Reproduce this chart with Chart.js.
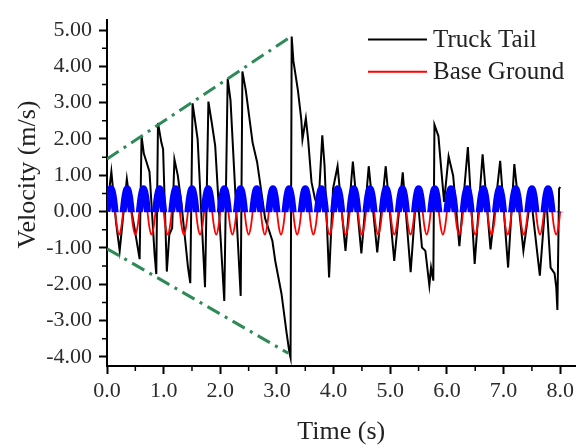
<!DOCTYPE html>
<html><head><meta charset="utf-8">
<script src="https://cdn.jsdelivr.net/npm/chart.js@4/dist/chart.umd.min.js"></script>
<style>html,body{margin:0;padding:0;background:#fff;}#wrap{width:578px;height:448px;}</style>
</head><body><div id="wrap"><canvas id="c" width="578" height="448"></canvas></div>
<script>
const xTicks = [0, 1, 2, 3, 4, 5, 6, 7, 8];
const xMinor = [0.5, 1.5, 2.5, 3.5, 4.5, 5.5, 6.5, 7.5];
const yTicks = [-4, -3, -2, -1, 0, 1, 2, 3, 4, 5];
const yMinor = [-3.5, -2.5, -1.5, -0.5, 0.5, 1.5, 2.5, 3.5, 4.5];

const truckTime = [0.00,0.04,0.077,0.11,0.16,0.224,0.28,0.35,0.40,0.48,0.576,0.61,0.65,0.69,0.75,0.84,0.87,0.90,0.96,0.99,
1.056,1.10,1.15,1.19,1.25,1.31,1.37,1.43,1.47,1.51,1.56,1.60,1.73,1.79,1.85,1.91,2.07,2.13,2.18,2.36,
2.39,2.45,2.57,2.65,2.75,2.79,2.92,2.97,3.08,3.17,3.22,3.24,3.26,3.29,3.37,3.43,3.45,3.51,3.55,3.61,
3.67,3.73,3.80,3.84,3.92,3.99,4.07,4.21,4.34,4.49,4.62,4.77,4.92,5.07,5.22,5.36,5.45,5.50,5.56,5.62,
5.69,5.72,5.76,5.78,5.85,5.90,5.95,6.03,6.11,6.22,6.37,6.49,6.63,6.77,6.94,7.08,7.19,7.35,7.48,7.64,
7.75,7.83,7.90,7.93,7.95,7.98,8.00];
const truckTail = [0.00,0.60,1.10,0.55,-0.30,-1.08,-0.20,0.90,0.30,-0.40,-1.31,2.08,1.60,1.40,1.10,-1.17,-1.72,2.44,1.90,1.72,
-1.65,-0.63,-0.45,1.44,0.99,0.27,-0.63,-1.54,-1.97,2.98,2.44,1.99,-2.08,3.03,2.44,1.81,-2.46,3.66,3.07,-2.32,
3.86,3.34,1.90,1.36,0.27,-0.18,-0.81,-1.36,-2.26,-3.34,-3.88,-4.02,4.82,4.15,3.34,2.53,1.99,2.57,1.99,0.81,
0.36,0.09,2.10,1.27,-1.81,0.63,1.25,-1.08,1.38,-1.15,1.25,-1.12,1.25,-1.36,1.08,-1.67,0.30,0.09,-0.99,-1.08,
-2.03,-1.54,-1.90,2.39,2.08,1.17,0.27,1.52,0.99,-0.95,1.78,-1.44,1.58,-1.04,1.40,-1.54,1.31,-1.08,0.45,-1.76,
0.50,-1.54,-1.70,-2.08,-2.71,0.63,0.68];

const baseTime = [
0,0.0357,0.0714,0.1071,0.1429,0.1786,0.2143,0.25,0.2857,0.3214,0.3571,0.3929,0.4286,0.4643,
0.5,0.5357,0.5714,0.6071,0.6429,0.6786,0.7143,0.75,0.7857,0.8214,0.8571,0.8929,0.9286,0.9643,
1,1.0357,1.0714,1.1071,1.1429,1.1786,1.2143,1.25,1.2857,1.3214,1.3571,1.3929,1.4286,1.4643,
1.5,1.5357,1.5714,1.6071,1.6429,1.6786,1.7143,1.75,1.7857,1.8214,1.8571,1.8929,1.9286,1.9643,
2,2.0357,2.0714,2.1071,2.1429,2.1786,2.2143,2.25,2.2857,2.3214,2.3571,2.3929,2.4286,2.4643,
2.5,2.5357,2.5714,2.6071,2.6429,2.6786,2.7143,2.75,2.7857,2.8214,2.8571,2.8929,2.9286,2.9643,
3,3.0357,3.0714,3.1071,3.1429,3.1786,3.2143,3.25,3.2857,3.3214,3.3571,3.3929,3.4286,3.4643,
3.5,3.5357,3.5714,3.6071,3.6429,3.6786,3.7143,3.75,3.7857,3.8214,3.8571,3.8929,3.9286,3.9643,
4,4.0357,4.0714,4.1071,4.1429,4.1786,4.2143,4.25,4.2857,4.3214,4.3571,4.3929,4.4286,4.4643,
4.5,4.5357,4.5714,4.6071,4.6429,4.6786,4.7143,4.75,4.7857,4.8214,4.8571,4.8929,4.9286,4.9643,
5,5.0357,5.0714,5.1071,5.1429,5.1786,5.2143,5.25,5.2857,5.3214,5.3571,5.3929,5.4286,5.4643,
5.5,5.5357,5.5714,5.6071,5.6429,5.6786,5.7143,5.75,5.7857,5.8214,5.8571,5.8929,5.9286,5.9643,
6,6.0357,6.0714,6.1071,6.1429,6.1786,6.2143,6.25,6.2857,6.3214,6.3571,6.3929,6.4286,6.4643,
6.5,6.5357,6.5714,6.6071,6.6429,6.6786,6.7143,6.75,6.7857,6.8214,6.8571,6.8929,6.9286,6.9643,
7,7.0357,7.0714,7.1071,7.1429,7.1786,7.2143,7.25,7.2857,7.3214,7.3571,7.3929,7.4286,7.4643,
7.5,7.5357,7.5714,7.6071,7.6429,7.6786,7.7143,7.75,7.7857,7.8214,7.8571,7.8929,7.9286,7.9643,
8];
const baseGround = [
0,0.445,0.63,0.445,0,-0.445,-0.63,-0.445,0,0.445,0.63,0.445,0,-0.445,
-0.63,-0.445,0,0.445,0.63,0.445,0,-0.445,-0.63,-0.445,0,0.445,0.63,0.445,
0,-0.445,-0.63,-0.445,0,0.445,0.63,0.445,0,-0.445,-0.63,-0.445,0,0.445,
0.63,0.445,0,-0.445,-0.63,-0.445,0,0.445,0.63,0.445,0,-0.445,-0.63,-0.445,
0,0.445,0.63,0.445,0,-0.445,-0.63,-0.445,0,0.445,0.63,0.445,0,-0.445,
-0.63,-0.445,0,0.445,0.63,0.445,0,-0.445,-0.63,-0.445,0,0.445,0.63,0.445,
0,-0.445,-0.63,-0.445,0,0.445,0.63,0.445,0,-0.445,-0.63,-0.445,0,0.445,
0.63,0.445,0,-0.445,-0.63,-0.445,0,0.445,0.63,0.445,0,-0.445,-0.63,-0.445,
0,0.445,0.63,0.445,0,-0.445,-0.63,-0.445,0,0.445,0.63,0.445,0,-0.445,
-0.63,-0.445,0,0.445,0.63,0.445,0,-0.445,-0.63,-0.445,0,0.445,0.63,0.445,
0,-0.445,-0.63,-0.445,0,0.445,0.63,0.445,0,-0.445,-0.63,-0.445,0,0.445,
0.63,0.445,0,-0.445,-0.63,-0.445,0,0.445,0.63,0.445,0,-0.445,-0.63,-0.445,
0,0.445,0.63,0.445,0,-0.445,-0.63,-0.445,0,0.445,0.63,0.445,0,-0.445,
-0.63,-0.445,0,0.445,0.63,0.445,0,-0.445,-0.63,-0.445,0,0.445,0.63,0.445,
0,-0.445,-0.63,-0.445,0,0.445,0.63,0.445,0,-0.445,-0.63,-0.445,0,0.445,
0.63,0.445,0,-0.445,-0.63,-0.445,0,0.445,0.63,0.445,0,-0.445,-0.63,-0.445,
0];

const envUpperTime = [0, 3.25];
const envUpper = [1.45, 4.82];
const envLowerTime = [0, 3.20];
const envLower = [-1.02, -3.90];

const legendOrder = ['Truck Tail', 'Base Ground'];

const SERIF = '"Liberation Serif", "Times New Roman", serif';
const zip = (xs, ys) => xs.map((x, i) => ({ x: x, y: ys[i] }));

const decor = {
  id: 'decor',
  beforeDatasetDraw(chart, args) {
    const ds = chart.data.datasets[args.index];
    if (ds.clipAbove !== undefined) {
      const a = chart.chartArea, ctx = chart.ctx;
      const y0 = chart.scales.y.getPixelForValue(ds.clipAbove);
      ctx.save();
      ctx.beginPath();
      ctx.rect(a.left, a.top, a.right - a.left, y0 - a.top + 0.5);
      ctx.clip();
    }
  },
  afterDatasetDraw(chart, args) {
    if (chart.data.datasets[args.index].clipAbove !== undefined) chart.ctx.restore();
  },
  afterDraw(chart) {
    const ctx = chart.ctx, a = chart.chartArea, xs = chart.scales.x, ys = chart.scales.y;
    ctx.save();
    ctx.strokeStyle = '#000';
    ctx.lineWidth = 1.5;
    ctx.beginPath();
    yMinor.forEach(v => { const p = ys.getPixelForValue(v); ctx.moveTo(a.left - 5, p); ctx.lineTo(a.left, p); });
    xMinor.forEach(v => { const p = xs.getPixelForValue(v); ctx.moveTo(p, a.bottom); ctx.lineTo(p, a.bottom + 5); });
    ctx.stroke();
    // y axis title
    ctx.save();
    ctx.font = '26px ' + SERIF;
    ctx.fillStyle = '#222';
    ctx.textAlign = 'center';
    ctx.textBaseline = 'alphabetic';
    ctx.translate(35, 174.5);
    ctx.rotate(-Math.PI / 2);
    ctx.fillText('Velocity (m/s)', 0, 0);
    ctx.restore();
    // legend
    ctx.font = '25px ' + SERIF;
    ctx.fillStyle = '#222';
    ctx.textAlign = 'left';
    ctx.textBaseline = 'middle';
    legendOrder.forEach((name, i) => {
      const d = chart.data.datasets.find(ds => ds.label === name);
      const y = 39.5 + i * 32.3;
      ctx.strokeStyle = d.borderColor;
      ctx.lineWidth = 2;
      ctx.beginPath();
      ctx.moveTo(368, y);
      ctx.lineTo(427, y);
      ctx.stroke();
      ctx.fillText(d.label, 433, y + 0.5);
    });
    ctx.restore();
  }
};

new Chart(document.getElementById('c'), {
  type: 'line',
  data: {
    datasets: [
      { label: 'Truck Tail', data: zip(truckTime, truckTail), borderColor: '#000000', borderWidth: 2,
        pointRadius: 0, tension: 0, order: 3 },
      { label: 'Base Ground', data: zip(baseTime, baseGround), borderColor: '#FF0000', borderWidth: 1.8,
        pointRadius: 0, tension: 0.4, order: 2 },
      { label: 'Base Ground (upper half)', data: zip(baseTime, baseGround), borderColor: '#0000FF', borderWidth: 7,
        borderCapStyle: 'butt', borderJoinStyle: 'round', pointRadius: 0, tension: 0.4, order: 1, clipAbove: 0 },
      { label: 'Envelope upper', data: zip(envUpperTime, envUpper), borderColor: '#2E8B57', borderWidth: 3,
        borderDash: [14, 6, 3, 6], pointRadius: 0, tension: 0, order: 0 },
      { label: 'Envelope lower', data: zip(envLowerTime, envLower), borderColor: '#2E8B57', borderWidth: 3,
        borderDash: [14, 6, 3, 6], pointRadius: 0, tension: 0, order: 0 }
    ]
  },
  options: {
    responsive: false,
    animation: false,
    devicePixelRatio: 1,
    layout: { padding: { top: 15, right: 1, left: 0, bottom: 0 } },
    plugins: { legend: { display: false }, tooltip: { enabled: false } },
    scales: {
      x: {
        type: 'linear', min: 0, max: 8.27,
        afterBuildTicks: s => { s.ticks = xTicks.map(v => ({ value: v })); },
        afterFit: s => { s.height = 82; },
        ticks: { callback: v => Number(v).toFixed(1), font: { family: SERIF, size: 22 }, color: '#2b2b2b',
          padding: 4, maxRotation: 0, autoSkip: false },
        grid: { display: true, drawOnChartArea: false, drawTicks: true, tickLength: 8, tickWidth: 2, tickColor: '#000', color: '#000' },
        border: { display: true, color: '#000', width: 2 },
        title: { display: true, text: 'Time (s)', font: { family: SERIF, size: 26 }, color: '#222', padding: { top: 0, bottom: 0 } }
      },
      y: {
        type: 'linear', min: -4.25, max: 5.27,
        afterBuildTicks: s => { s.ticks = yTicks.map(v => ({ value: v })); },
        afterFit: s => { s.width = 107; },
        ticks: { callback: v => Number(v).toFixed(2), font: { family: SERIF, size: 22 }, color: '#2b2b2b',
          padding: 7, autoSkip: false },
        grid: { display: true, drawOnChartArea: false, drawTicks: true, tickLength: 8, tickWidth: 2, tickColor: '#000', color: '#000' },
        border: { display: true, color: '#000', width: 2 },
        title: { display: false }
      }
    }
  },
  plugins: [decor]
});
</script>
</body></html>
